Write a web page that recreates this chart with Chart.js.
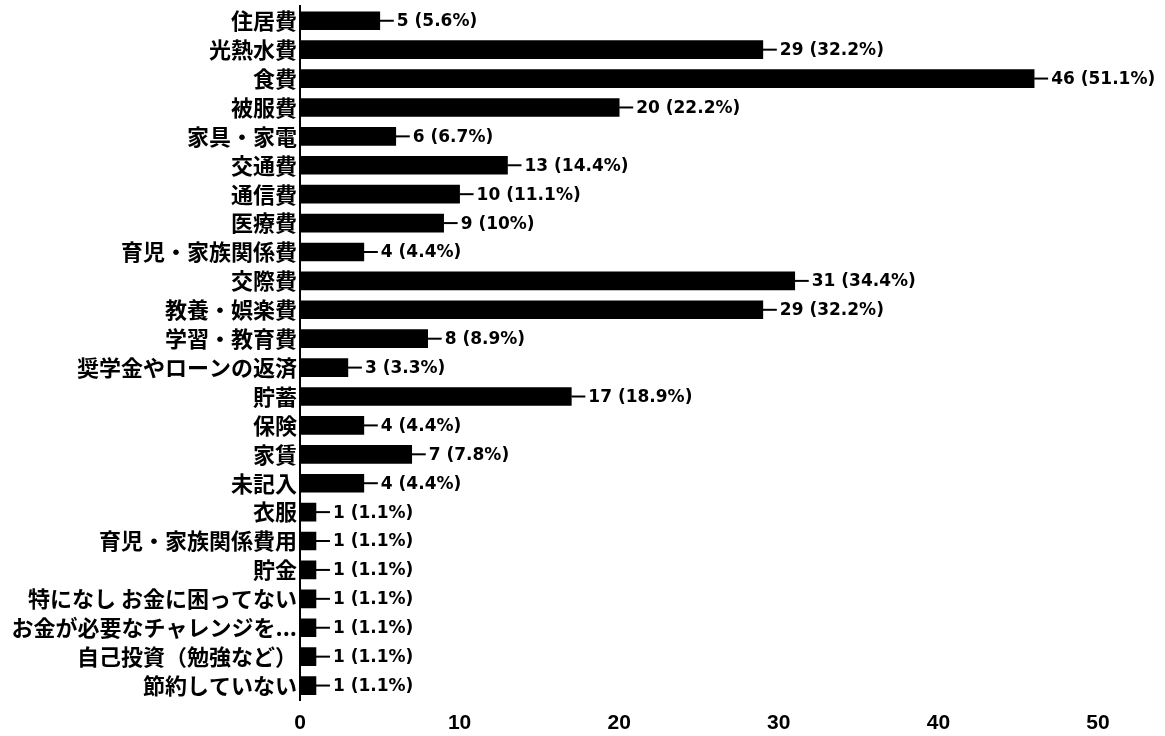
<!DOCTYPE html>
<html>
<head>
<meta charset="utf-8">
<script src="https://cdn.jsdelivr.net/npm/chart.js@4.4.0/dist/chart.umd.min.js"></script>
<style>
  body { margin: 0; background: #fff; }
  #wrap { width: 1165px; height: 736px; position: relative; }
</style>
</head>
<body>
<div id="wrap"><canvas id="graph1"></canvas></div>
<script>
var labels = ['住居費', '光熱水費', '食費', '被服費', '家具・家電', '交通費', '通信費', '医療費',
  '育児・家族関係費', '交際費', '教養・娯楽費', '学習・教育費', '奨学金やローンの返済', '貯蓄', '保険',
  '家賃', '未記入', '衣服', '育児・家族関係費用', '貯金', '特になし お金に困ってない',
  'お金が必要なチャレンジを...', '自己投資（勉強など）', '節約していない'];
var counts = [5, 29, 46, 20, 6, 13, 10, 9, 4, 31, 29, 8, 3, 17, 4, 7, 4, 1, 1, 1, 1, 1, 1, 1];
var percents = ['5.6', '32.2', '51.1', '22.2', '6.7', '14.4', '11.1', '10', '4.4', '34.4', '32.2', '8.9',
  '3.3', '18.9', '4.4', '7.8', '4.4', '1.1', '1.1', '1.1', '1.1', '1.1', '1.1', '1.1'];
var xTicks = [0, 10, 20, 30, 40, 50];

// little line + "n (p%)" after each bar
var valueLabels = {
  id: 'valueLabels',
  afterDatasetsDraw: function (chart) {
    var ctx = chart.ctx;
    var meta = chart.getDatasetMeta(0);
    ctx.save();
    ctx.strokeStyle = '#000';
    ctx.fillStyle = '#000';
    ctx.lineWidth = 2;
    ctx.font = 'bold 17px "DejaVu Sans"';
    ctx.textBaseline = 'middle';
    ctx.textAlign = 'left';
    meta.data.forEach(function (bar, i) {
      ctx.beginPath();
      ctx.moveTo(bar.x, bar.y);
      ctx.lineTo(bar.x + 14, bar.y);
      ctx.stroke();
      ctx.fillText(counts[i] + ' (' + percents[i] + '%)', bar.x + 17, bar.y + 1);
    });
    ctx.restore();
  }
};

var context = document.getElementById('graph1').getContext('2d');
var chart = new Chart(context, {
  type: 'bar',
  data: {
    labels: labels,
    datasets: [{
      data: counts,
      backgroundColor: '#000',
      borderWidth: 0,
      barThickness: 18
    }]
  },
  options: {
    indexAxis: 'y',
    responsive: true,
    maintainAspectRatio: false,
    animation: false,
    layout: { padding: { top: 4, bottom: 0, left: 0, right: 0 } },
    plugins: {
      legend: { display: false },
      tooltip: { enabled: false }
    },
    scales: {
      x: {
        min: 0,
        max: 54.2,
        afterBuildTicks: function (scale) {
          scale.ticks = xTicks.map(function (v) { return { value: v }; });
        },
        afterFit: function (scale) { scale.height = 36; },
        grid: { display: false, drawTicks: false },
        border: { display: false },
        ticks: {
          color: '#000',
          padding: 11,
          maxRotation: 0,
          font: { family: '"Liberation Sans"', size: 21, weight: 'bold' }
        }
      },
      y: {
        afterFit: function (scale) { scale.width = 300; },
        grid: { display: false, drawTicks: false },
        border: { display: true, color: '#000', width: 2 },
        ticks: {
          color: '#000',
          padding: 3,
          autoSkip: false,
          font: { family: '"Noto Sans CJK JP"', size: 22, weight: 'bold', lineHeight: 0.3 }
        }
      }
    }
  },
  plugins: [valueLabels]
});
</script>
</body>
</html>
